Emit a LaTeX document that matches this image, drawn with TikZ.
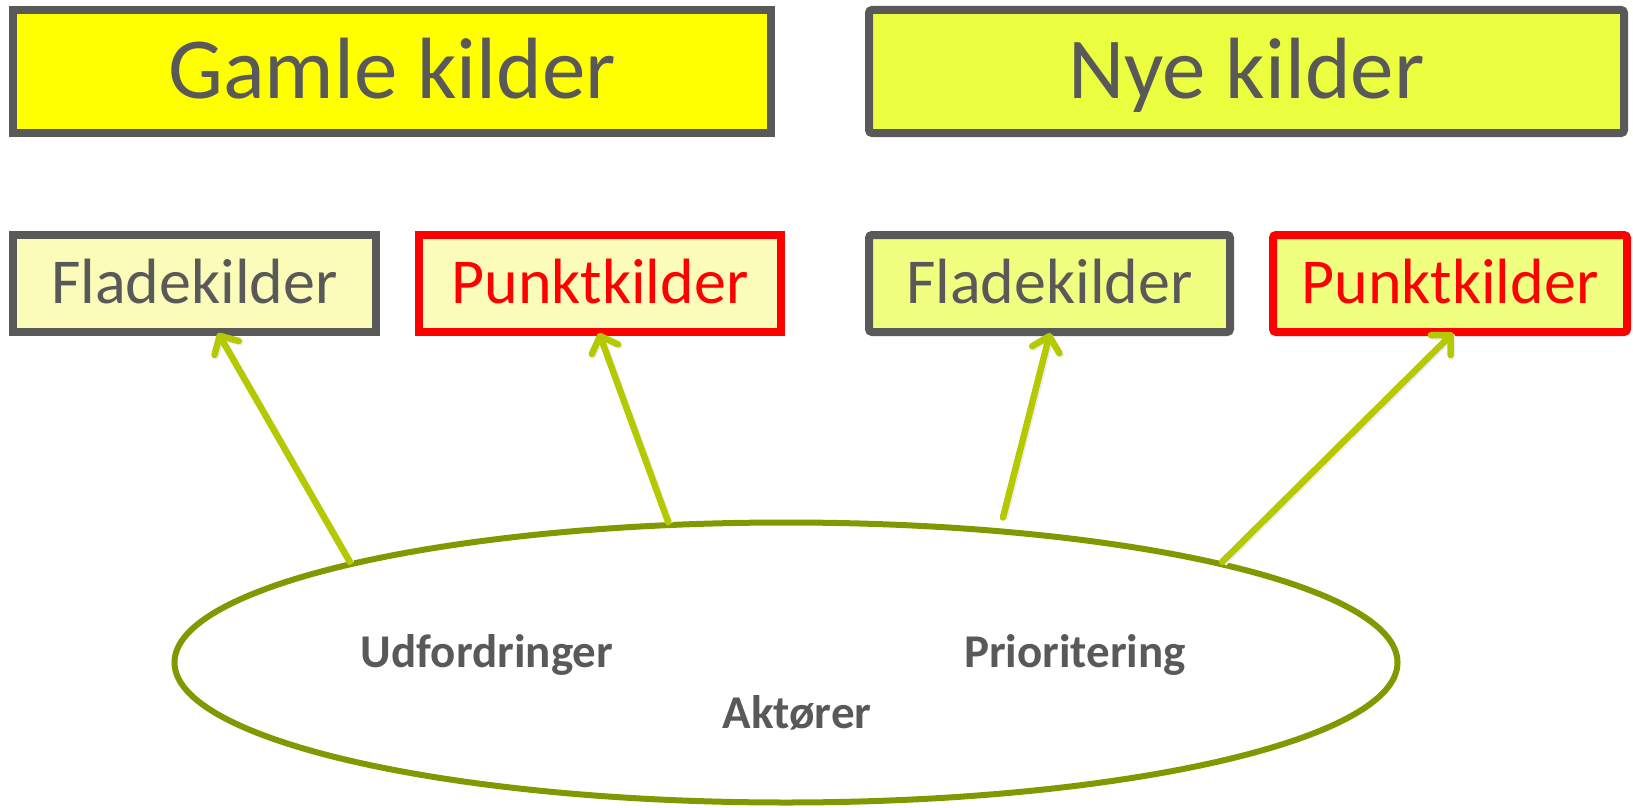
\documentclass[tikz,border=0pt]{standalone}
\usepackage{fontspec}
\setmainfont{Carlito}
\usetikzlibrary{arrows.meta,calc,shapes.geometric}
\definecolor{txtgray}{RGB}{89,89,89}
\definecolor{boxgray}{RGB}{89,89,89}
\definecolor{fillA}{RGB}{255,255,0}
\definecolor{fillB}{RGB}{235,255,64}
\definecolor{fillC}{RGB}{252,252,186}
\definecolor{fillD}{RGB}{240,255,128}
\definecolor{lime}{RGB}{181,201,0}
\definecolor{olive}{RGB}{130,152,0}
\definecolor{pred}{RGB}{255,0,0}
\begin{document}
\begin{tikzpicture}[x=1pt,y=-1pt,
  titlebox/.style={draw=boxgray,line width=8pt,inner sep=0pt,
    minimum height=123pt,text height=55pt,text depth=0pt,text=txtgray,
    font=\fontsize{87}{90}\selectfont},
  subbox/.style={draw=boxgray,line width=8pt,inner sep=0pt,
    minimum height=97pt,text height=39pt,text depth=0pt,text=txtgray,
    font=\fontsize{64}{68}\selectfont},
  redbox/.style={subbox,draw=pred,text=pred},
  ellab/.style={anchor=base,text=txtgray,font=\bfseries\fontsize{47}{50}\selectfont,inner sep=0pt},
  conn/.style={draw=lime,line width=6.5pt,line cap=round,
    -{Straight Barb[length=14pt,width=28pt,round]},
    preaction={draw=black!7,line width=6.5pt,transform canvas={shift={(1.5pt,-1.5pt)}}}}
]
\useasboundingbox (0,0) rectangle (1633,808);

\node[titlebox,fill=fillA,minimum width=758pt] (B1) at (392,71.5) {Gamle kilder};
\node[titlebox,fill=fillB,minimum width=755pt,rounded corners=3pt] (B2) at (1246.5,71.5) {Nye kilder};

\node[subbox,fill=fillC,minimum width=363pt] (F1) at (194.5,283.5) {Fladekilder};
\node[redbox,fill=fillC,minimum width=362pt] (P1) at (600,283.5) {Punktkilder};
\node[subbox,fill=fillD,minimum width=361pt,rounded corners=3pt] (F2) at (1049.5,283.5) {Fladekilder};
\node[redbox,fill=fillD,minimum width=354pt,rounded corners=3pt] (P2) at (1450,283.5) {Punktkilder};

\node[ellipse,draw=olive,line width=6pt,inner sep=0pt,
  minimum width=1223pt,minimum height=280pt] (E) at (786,662.5) {};

\node[ellab] (U) at (487,667) {Udfordringer};
\node[ellab] (Pr) at (1075,667) {Prioritering};
\node[ellab] (Ak) at (797,728) {Aktører};

\draw[conn] (E.167) -- ($(F1.south)+(23.5,-3)$);
\draw[conn] (E.130) -- ($(P1.south)+(-1,-3)$);
\draw[conn] ($(E.north)+(217,-2)$) -- ($(F2.south)+(0.5,-3)$);
\draw[conn] (E.13) -- ($(P2.south)+(3,-3)$);
\end{tikzpicture}
\end{document}
